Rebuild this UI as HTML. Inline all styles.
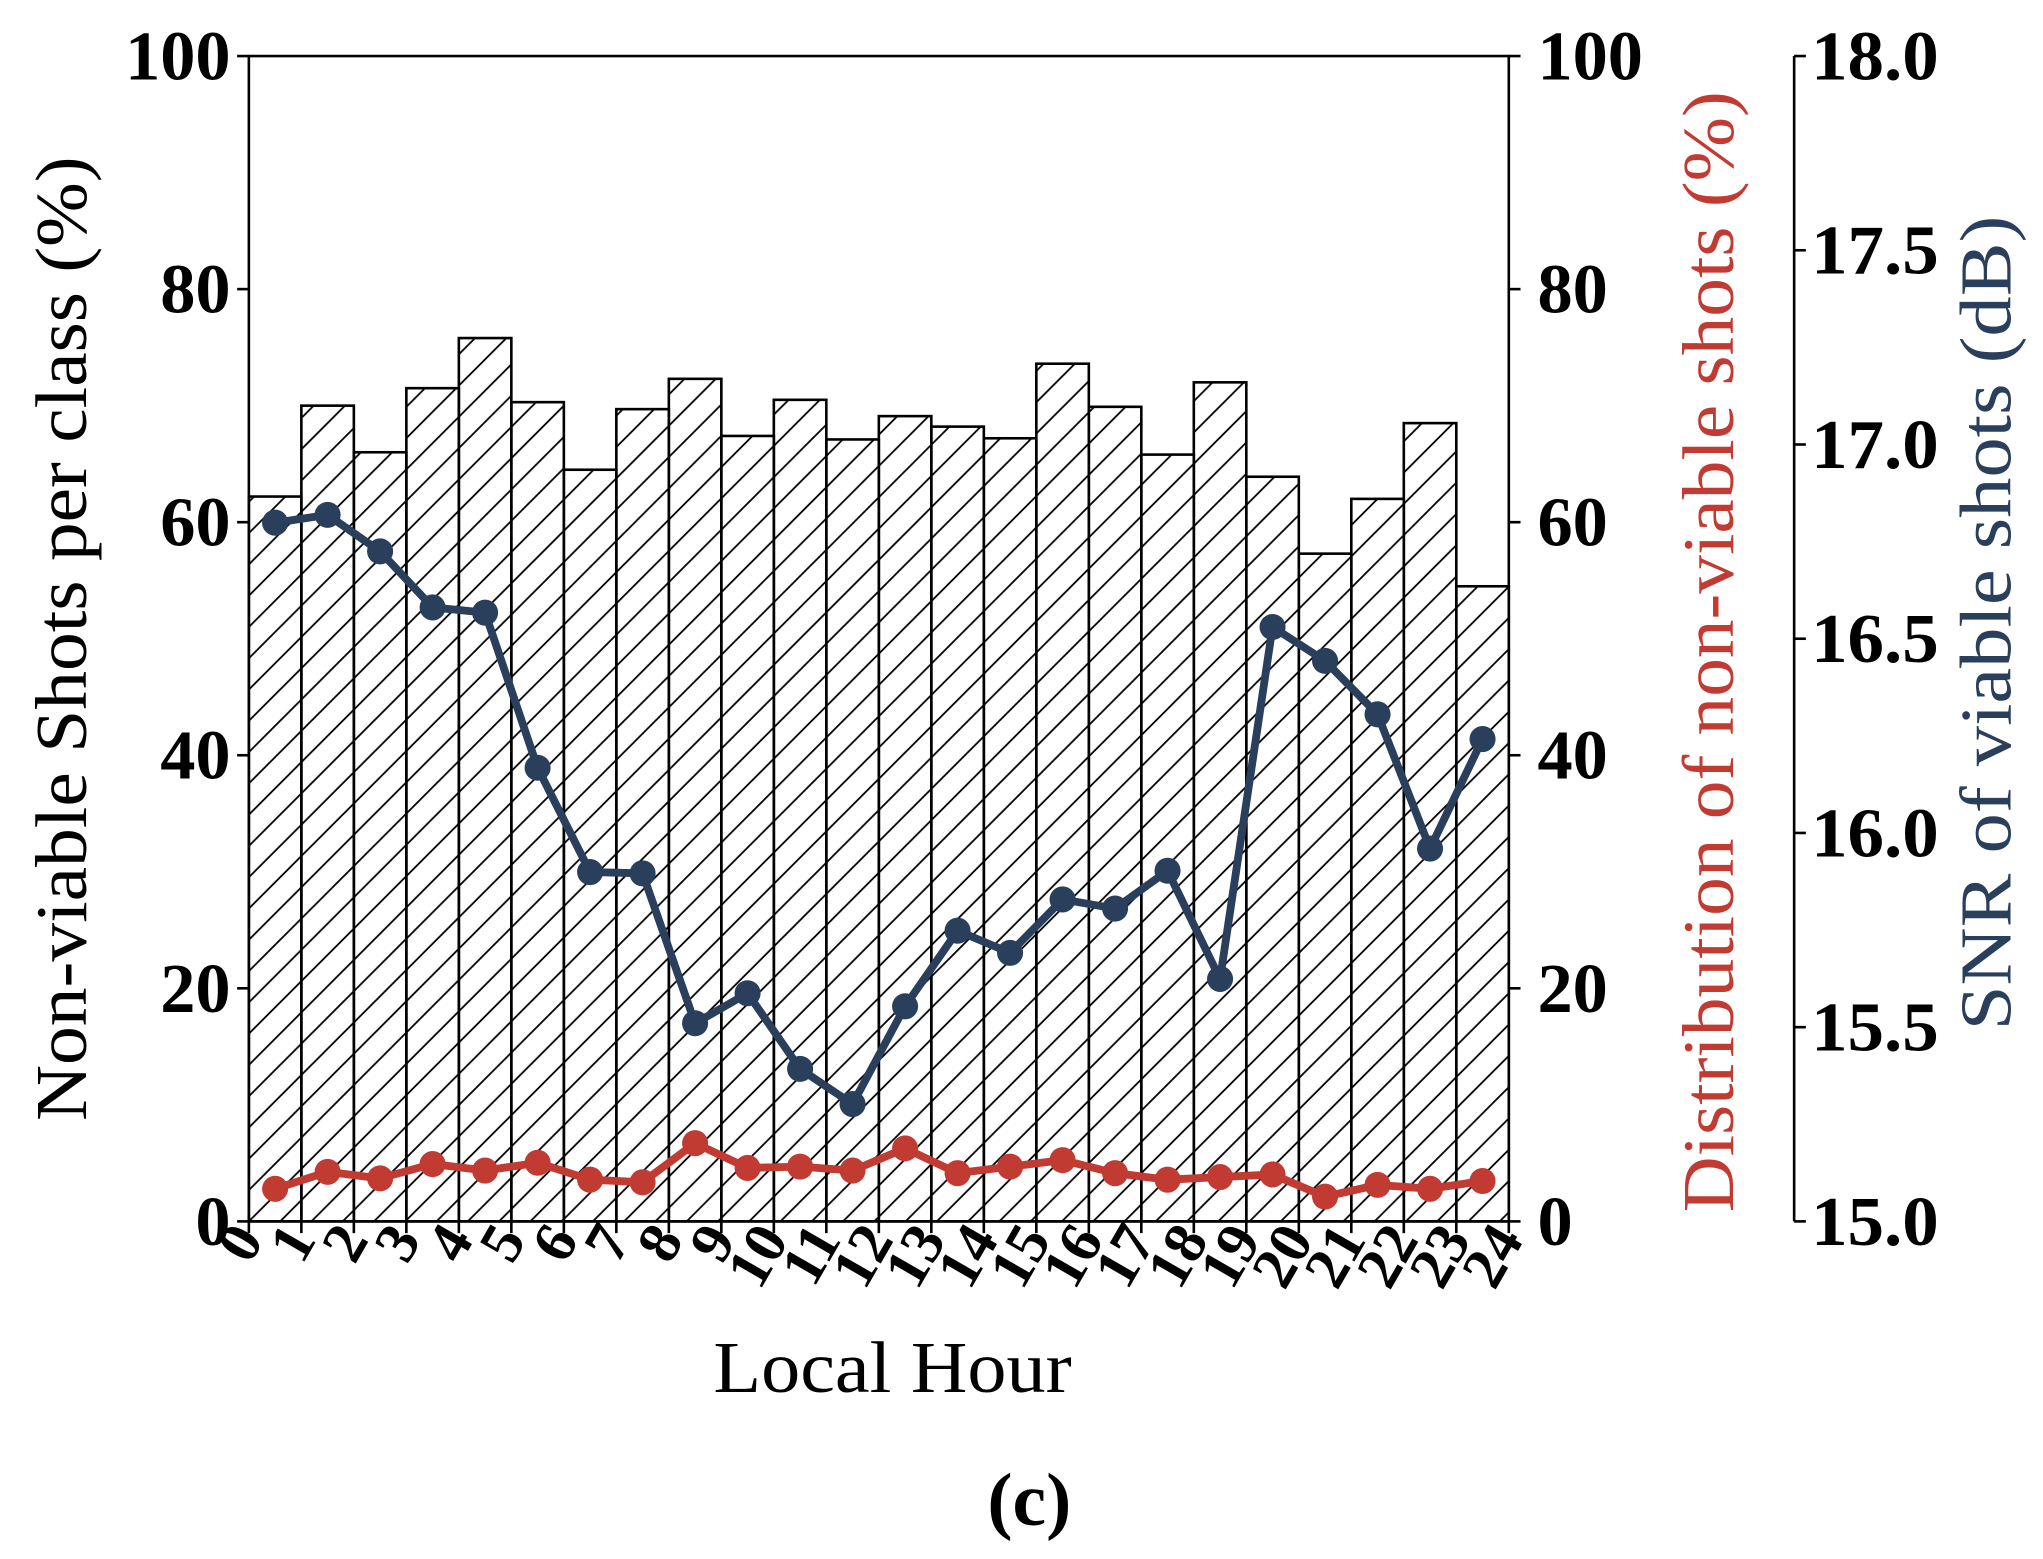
<!DOCTYPE html>
<html><head><style>html,body{margin:0;padding:0;background:#fff}svg{display:block}</style></head>
<body>
<svg width="2043" height="1559" viewBox="0 0 1568 1196" preserveAspectRatio="none" xmlns="http://www.w3.org/2000/svg" font-family="'Liberation Serif', serif">
<defs>
<pattern id="h" patternUnits="userSpaceOnUse" width="24" height="24">
<path d="M-6,6 L6,-6 M0,24 L24,0 M18,30 L30,18" stroke="#000" stroke-width="1.4"/>
</pattern>
</defs>
<g id="bars" stroke="#000" stroke-width="2" fill="url(#h)"></g>
<rect x="191" y="43" width="967" height="894" fill="none" stroke="#000" stroke-width="2"/>
<line x1="1377" y1="43" x2="1377" y2="937" stroke="#000" stroke-width="2"/>
<g id="ticks" stroke="#000" stroke-width="2"></g>
<g id="labels" font-weight="bold" font-size="54"></g>
<polyline id="blue" fill="none" stroke="#2a3f5c" stroke-width="6"/>
<g id="bdots" fill="#2a3f5c"></g>
<polyline id="red" fill="none" stroke="#c23b33" stroke-width="6"/>
<g id="rdots" fill="#c23b33"></g>
<text transform="translate(66,490) rotate(-90)" text-anchor="middle" font-size="56" textLength="740" lengthAdjust="spacingAndGlyphs">Non-viable Shots per class (%)</text>
<text transform="translate(1330,500) rotate(-90)" text-anchor="middle" font-size="56" fill="#c23b33" textLength="860" lengthAdjust="spacingAndGlyphs">Distribution of non-viable shots (%)</text>
<text transform="translate(1543,478) rotate(-90)" text-anchor="middle" font-size="56" fill="#2a3f5c" textLength="625" lengthAdjust="spacingAndGlyphs">SNR of viable shots (dB)</text>
<text x="685" y="1068" text-anchor="middle" font-size="56" textLength="275" lengthAdjust="spacingAndGlyphs">Local Hour</text>
<text x="790" y="1170" text-anchor="middle" font-size="58" font-weight="bold">(c)</text>
</svg>
<script>
const NS="http://www.w3.org/2000/svg";
function el(p,t,a,txt){const e=document.createElementNS(NS,t);for(const k in a)e.setAttribute(k,a[k]);if(txt!==undefined)e.textContent=txt;document.getElementById(p).appendChild(e);return e;}
const L=191,R=1158,T=43,B=937,bw=(R-L)/24,py=v=>B-(B-T)*v/100;
const bars=[62.2,70,66,71.5,75.8,70.3,64.5,69.7,72.3,67.4,70.5,67.1,69.1,68.2,67.2,73.6,69.9,65.8,72,63.9,57.3,62,68.5,54.5];
bars.forEach((v,i)=>el("bars","rect",{x:L+i*bw,y:py(v),width:bw,height:B-py(v)}));
for(let v=0;v<=100;v+=20){const y=py(v);
el("ticks","line",{x1:L-9,y1:y,x2:L,y2:y});el("ticks","line",{x1:R,y1:y,x2:R+9,y2:y});
el("labels","text",{x:177,y:y+18,"text-anchor":"end"},v);
el("labels","text",{x:1180,y:y+18},v);}
for(let i=0;i<=6;i++){const y=B-i*(B-T)/6;el("ticks","line",{x1:1377,y1:y,x2:1386,y2:y});
el("labels","text",{x:1390,y:y+18,textLength:98,lengthAdjust:"spacingAndGlyphs"},(15+i*0.5).toFixed(1));}
for(let i=0;i<=24;i++){const x=L+i*bw;el("ticks","line",{x1:x,y1:B,x2:x,y2:B+9});
el("labels","text",{transform:`translate(${x+12},${B+14}) rotate(-60)`,"text-anchor":"end","font-size":"46"},i);}
const by=[401,395,423,466,470,589,669,670,785,762,820,847,772,714,731,690,697,668,751,481,507,548,651,567];
const ry=[912,899,904,893,898,892,905,907,877,896,895,898,881,900,895,890,900,905,903,901,918,909,912,906];
const cx=i=>L+(i+0.5)*bw;
document.getElementById("blue").setAttribute("points",by.map((y,i)=>cx(i)+","+y).join(" "));
document.getElementById("red").setAttribute("points",ry.map((y,i)=>cx(i)+","+y).join(" "));
by.forEach((y,i)=>el("bdots","circle",{cx:cx(i),cy:y,r:10}));
ry.forEach((y,i)=>el("rdots","circle",{cx:cx(i),cy:y,r:10}));
</script>
</body></html>
